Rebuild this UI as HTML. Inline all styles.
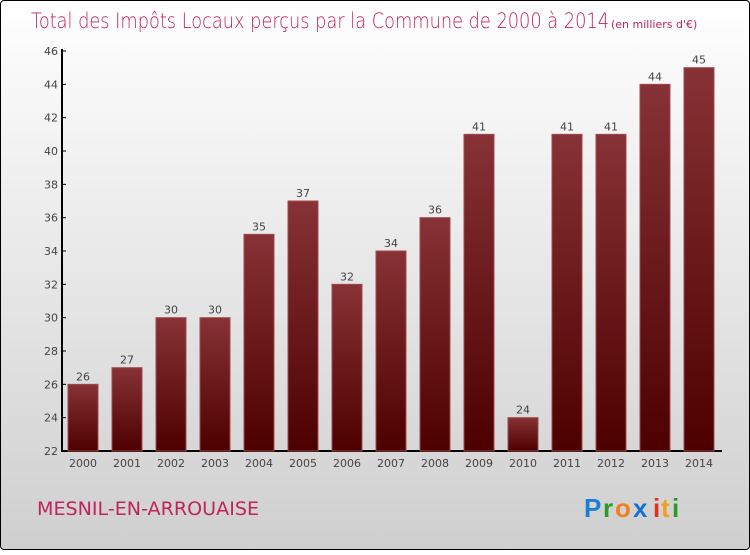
<!DOCTYPE html>
<html><head><meta charset="utf-8"><style>
body{margin:0;width:750px;height:550px;overflow:hidden;font-family:"DejaVu Sans","Liberation Sans",sans-serif}
#frame{position:absolute;left:0;top:0;width:748px;height:548px;border:1px solid #000;border-radius:4px;background:linear-gradient(#ffffff,#cfcfcf)}
</style></head><body>
<div id="frame">
<svg width="750" height="550">
<defs><linearGradient id="bg" x1="0" y1="0" x2="0" y2="1"><stop offset="0" stop-color="#873236"/><stop offset="1" stop-color="#4d0000"/></linearGradient></defs>
<text x="30" y="27" font-size="21" fill="#c0245c" font-weight="200" textLength="578" lengthAdjust="spacingAndGlyphs">Total des Impôts Locaux perçus par la Commune de 2000 à 2014</text>
<text x="610" y="27" font-size="11" fill="#c0245c">(en milliers d'€)</text>
<g id="axes"></g><g id="bars"></g>
<text x="36" y="514" font-size="19" fill="#c0245c" textLength="222" lengthAdjust="spacingAndGlyphs">MESNIL-EN-ARROUAISE</text>
<g font-size="26" font-weight="bold" font-family="'Liberation Sans',sans-serif">
<text x="583" y="516" fill="#1a7fd6">P</text><text x="602" y="516" fill="#2a9a2a">r</text><text x="614" y="516" fill="#f08020">o</text><text x="632" y="516" fill="#1a6fd6">x</text><text x="652" y="516" fill="#e03020">i</text><text x="660" y="516" fill="#f0a020">t</text><text x="671" y="516" fill="#2a9a2a">i</text></g>
</svg></div>
<script>
const years=["2000","2001","2002","2003","2004","2005","2006","2007","2008","2009","2010","2011","2012","2013","2014"];
const values=[26,27,30,30,35,37,32,34,36,41,24,41,41,44,45];
const yTicks=[22,24,26,28,30,32,34,36,38,40,42,44,46];
const NS="http://www.w3.org/2000/svg";
const y=v=>450-(v-22)*400/24;
const x=i=>82+44*i;
function mk(t,a,p){const e=document.createElementNS(NS,t);for(const k in a)e.setAttribute(k,a[k]);p.appendChild(e);return e;}
const ax=document.getElementById('axes'),bg=document.getElementById('bars');
let l=mk('line',{x1:61,y1:48,x2:61,y2:451,stroke:'#000','stroke-width':2},ax);


l=mk('line',{x1:60,y1:450,x2:721,y2:450,stroke:'#000','stroke-width':2},ax);


yTicks.forEach(v=>{
 mk('line',{x1:61,y1:y(v),x2:65,y2:y(v),stroke:'#000'},ax);
 const t=mk('text',{x:57,y:y(v)+4,'font-size':11,fill:'#444','text-anchor':'end'},ax);t.textContent=v;
 
 
});
years.forEach((yr,i)=>{
 const r=mk('rect',{x:x(i)-15,y:y(values[i]),width:30,height:450-y(values[i]),fill:'url(#bg)',stroke:'#a04a4e','stroke-width':1},bg);
 
 
 const v=mk('text',{x:x(i),y:y(values[i])-4,'font-size':11,fill:'#444','text-anchor':'middle'},bg);v.textContent=values[i];
 
 
 const t=mk('text',{x:x(i),y:466,'font-size':11,fill:'#444','text-anchor':'middle'},bg);t.textContent=yr;
 
 
});
</script>
</body></html>
